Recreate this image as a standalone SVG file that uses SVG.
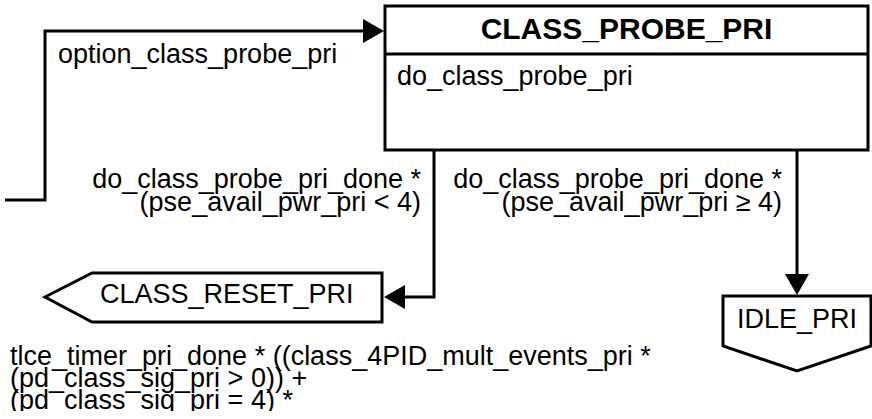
<svg xmlns="http://www.w3.org/2000/svg" width="872" height="419" viewBox="0 0 872 419">
<style>
text{font-family:"Liberation Sans",Arial,Helvetica,sans-serif;font-size:27px;fill:#000}
.title{font-weight:bold;font-size:30px}
.shape{fill:#fff;stroke:#000;stroke-width:3}
.conn{fill:none;stroke:#000;stroke-width:3}
</style>
<defs>
<marker id="arr" markerUnits="userSpaceOnUse" markerWidth="22" markerHeight="24" refX="16" refY="12" orient="auto">
<path d="M0,0 L21,12 L0,24 z" fill="#000"/>
</marker>
<clipPath id="clipBottom"><rect x="0" y="0" width="872" height="411"/></clipPath>
</defs>
<rect width="872" height="419" fill="#fff"/>
<g id="connectors">
<path class="conn" d="M5,200 H45 V31 H379" marker-end="url(#arr)"/>
<path class="conn" d="M434,150 V297 H389" marker-end="url(#arr)"/>
<path class="conn" d="M797,150 V290" marker-end="url(#arr)"/>
<text x="58" y="63">option_class_probe_pri</text>
<text x="421" y="188" text-anchor="end">do_class_probe_pri_done *</text>
<text x="421" y="211" text-anchor="end">(pse_avail_pwr_pri &lt; 4)</text>
<text x="782" y="188" text-anchor="end">do_class_probe_pri_done *</text>
<text x="782" y="211" text-anchor="end">(pse_avail_pwr_pri ≥ 4)</text>
<g clip-path="url(#clipBottom)">
<text x="10" y="365">tlce_timer_pri_done * ((class_4PID_mult_events_pri *</text>
<text x="10" y="387">(pd_class_sig_pri &gt; 0)) +</text>
<text x="10" y="409">(pd_class_sig_pri = 4) *</text>
</g>
</g>
<g id="CLASS_PROBE_PRI">
<rect class="shape" x="385" y="6" width="483" height="144"/>
<line class="conn" x1="385" y1="54" x2="868" y2="54"/>
<text class="title" x="626.5" y="39" text-anchor="middle">CLASS_PROBE_PRI</text>
<text x="397" y="85">do_class_probe_pri</text>
</g>
<g id="CLASS_RESET_PRI">
<polygon class="shape" points="45,297 92,273 382,273 382,322 92,322"/>
<text x="100" y="303">CLASS_RESET_PRI</text>
</g>
<g id="IDLE_PRI">
<polygon class="shape" points="723,296 871,296 871,346 797,371 723,346"/>
<text x="797" y="328" text-anchor="middle">IDLE_PRI</text>
</g>
</svg>
